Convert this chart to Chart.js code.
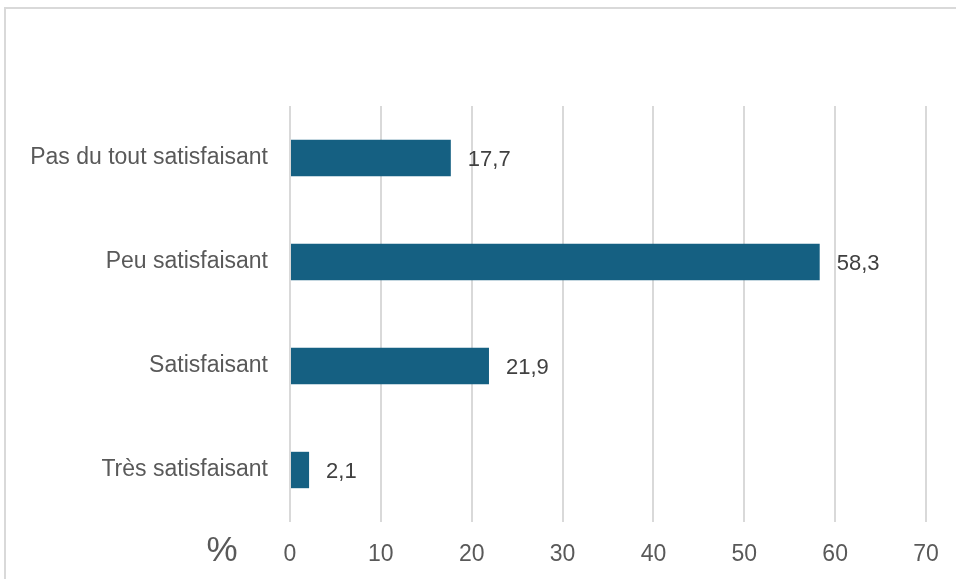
<!DOCTYPE html>
<html><head><meta charset="utf-8">
<script src="https://cdn.jsdelivr.net/npm/chart.js@4"></script>
<style>html,body{margin:0;padding:0;background:#fff;}#wrap{position:relative;width:956px;height:579px;}</style>
</head><body><div id="wrap"><canvas id="c" width="956" height="579"></canvas></div>
<script>
const categories = ["Pas du tout satisfaisant", "Peu satisfaisant", "Satisfaisant", "Très satisfaisant"];
const values = [17.7, 58.3, 21.9, 2.1];
const xTicks = [0, 10, 20, 30, 40, 50, 60, 70];
const unitLabel = "%";

const FONT = "'Liberation Sans', Arial, sans-serif";
const NARROW = "'Liberation Sans Narrow', 'Arial Narrow', 'Liberation Sans', sans-serif";

const extras = {
  id: 'extras',
  beforeDraw(chart) {
    const ctx = chart.ctx;
    ctx.save();
    ctx.strokeStyle = '#d9d9d9';
    ctx.lineWidth = 2;
    ctx.strokeRect(5, 8, 1000, 700);
    ctx.restore();
  },
  afterDraw(chart) {
    const ctx = chart.ctx;
    const meta = chart.getDatasetMeta(0);
    ctx.save();
    ctx.font = "22px " + FONT;
    ctx.fillStyle = '#404040';
    ctx.textAlign = 'left';
    ctx.textBaseline = 'middle';
    meta.data.forEach((bar, i) => {
      ctx.fillText(String(values[i]).replace('.', ','), bar.x + 17, bar.y + 2);
    });
    ctx.font = "35px " + NARROW;
    ctx.fillStyle = '#595959';
    ctx.textAlign = 'center';
    ctx.fillText(unitLabel, 222, chart.scales.x.bottom - 28);
    ctx.restore();
  }
};

new Chart(document.getElementById('c'), {
  type: 'bar',
  data: {
    labels: categories,
    datasets: [{
      data: values,
      backgroundColor: '#156082',
      borderWidth: 0,
      barPercentage: 0.35,
      categoryPercentage: 1
    }]
  },
  options: {
    indexAxis: 'y',
    responsive: false,
    animation: false,
    events: [],
    layout: { padding: { left: 0, top: 106, right: 30, bottom: 0 } },
    plugins: { legend: { display: false }, tooltip: { enabled: false } },
    scales: {
      x: {
        min: 0, max: 70,
        afterBuildTicks(s) { s.ticks = xTicks.map(v => ({ value: v })); },
        afterFit(s) { s.height = 57; s.paddingLeft = 0; s.paddingRight = 0; },
        border: { display: false },
        grid: { color: '#d9d9d9', lineWidth: 2, drawTicks: false },
        ticks: { color: '#595959', font: { size: 23, family: NARROW }, padding: 19 }
      },
      y: {
        afterFit(s) { s.width = 290; },
        border: { display: false },
        grid: { display: false, drawTicks: false },
        ticks: { color: '#595959', font: { size: 23, family: FONT }, padding: 22 }
      }
    }
  },
  plugins: [extras]
});
</script></body></html>
